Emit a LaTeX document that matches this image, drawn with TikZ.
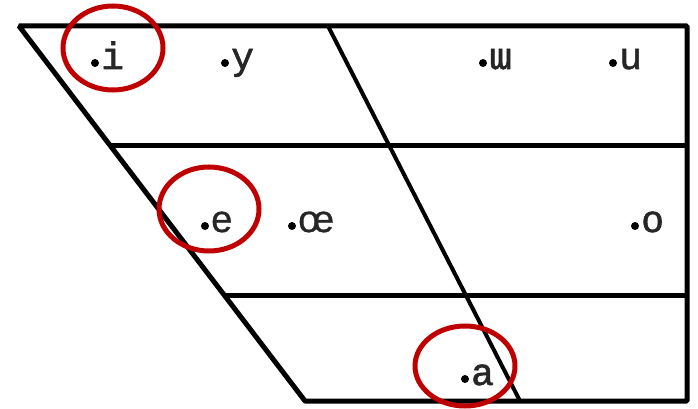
\documentclass[tikz,border=0pt]{standalone}
\usepackage{fontspec}
\newfontfamily\vowelmono[FakeBold=1.6]{Liberation Mono}
\newfontfamily\vowelsans[FakeBold=0.8]{Liberation Sans}
\usetikzlibrary{positioning}
\definecolor{ringred}{RGB}{190,0,0}
\tikzset{
  chartline/.style={line width=5pt,line join=bevel},
  midline/.style={line width=4pt},
  vowel/.style={anchor=base west,inner sep=0pt,text=black!85,font=\fontsize{38}{38}\vowelmono},
  ring/.style={draw=ringred,line width=5pt}
}

\begin{document}
\begin{tikzpicture}[x=1pt,y=-1pt]
\useasboundingbox (0,0) rectangle (698,409);

% corners of the chart
\coordinate (TL) at (19,26);
\coordinate (TR) at (687,26);
\coordinate (BR) at (687,401);
\coordinate (BL) at (305,401);
\coordinate (ML) at (110,145);
\coordinate (MR) at (687,145);
\coordinate (LL) at (224,295);
\coordinate (LR) at (687,295);
\coordinate (CT) at (328,26);
\coordinate (CB) at (520,401);

\draw[chartline] (TL)--(TR)--(BR)--(BL)--cycle;
\draw[chartline] (ML)--(MR);
\draw[chartline] (LL)--(LR);
\draw[midline] (CT)--(CB);

% vowels: dot position / name / symbol
\foreach \x/\y/\n/\t in {95/63/i/i, 225/63/y/y, 483/63/w/{ɯ}, 613/63/u/u,
                         205/226/e/{\vowelsans e}, 292/226/oe/{\vowelsans œ},
                         635/226/o/o, 465/379/a/a}{
  \fill (\x,\y) circle(4pt) coordinate (d\n);
  \node[vowel] (v\n) at (\x+6,\y+6) {\t};
}

\draw[ring] (113,48) ellipse [x radius=50pt,y radius=42pt];
\draw[ring] (209,209) ellipse [x radius=50pt,y radius=42pt];
\draw[ring] (465,366) ellipse [x radius=50pt,y radius=40pt];

\end{tikzpicture}
\end{document}
